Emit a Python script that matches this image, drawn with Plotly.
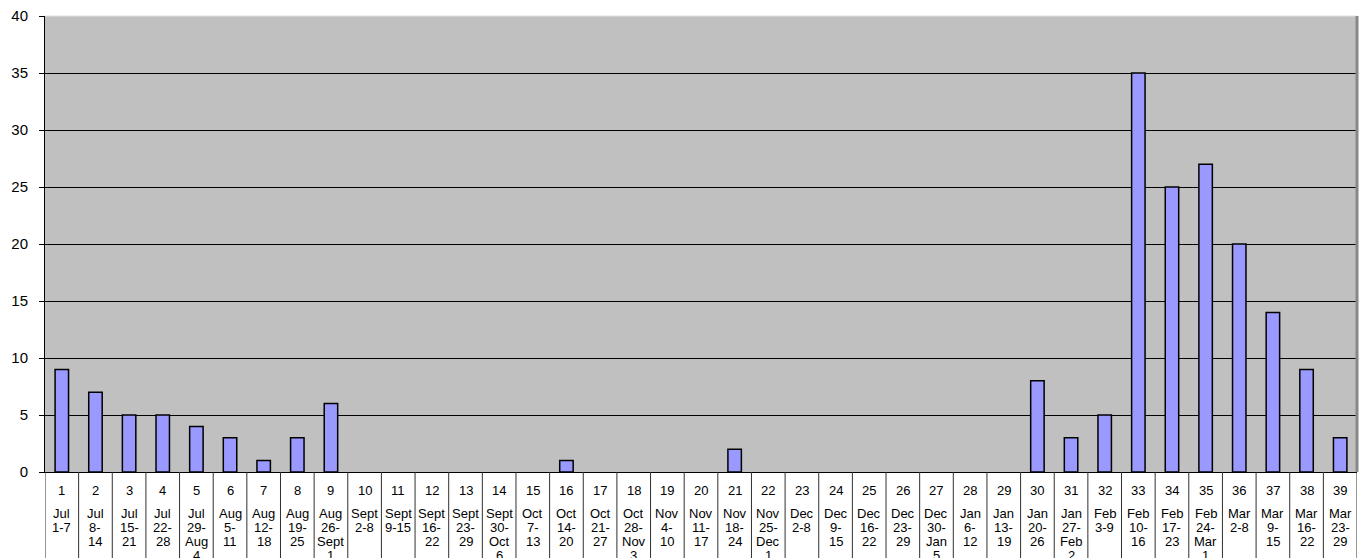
import plotly.graph_objects as go

# Weekly counts, July through March
week_numbers = list(range(1, 40))
week_ranges = [
    "Jul|1-7", "Jul|8-|14", "Jul|15-|21", "Jul|22-|28",
    "Jul|29-|Aug|4", "Aug|5-|11", "Aug|12-|18", "Aug|19-|25",
    "Aug|26-|Sept|1", "Sept|2-8", "Sept|9-15", "Sept|16-|22",
    "Sept|23-|29", "Sept|30-|Oct|6", "Oct|7-|13", "Oct|14-|20",
    "Oct|21-|27", "Oct|28-|Nov|3", "Nov|4-|10", "Nov|11-|17",
    "Nov|18-|24", "Nov|25-|Dec|1", "Dec|2-8", "Dec|9-|15",
    "Dec|16-|22", "Dec|23-|29", "Dec|30-|Jan|5", "Jan|6-|12",
    "Jan|13-|19", "Jan|20-|26", "Jan|27-|Feb|2", "Feb|3-9",
    "Feb|10-|16", "Feb|17-|23", "Feb|24-|Mar|1", "Mar|2-8",
    "Mar|9-|15", "Mar|16-|22", "Mar|23-|29",
]
counts = [9, 7, 5, 5, 4, 3, 1, 3, 6, 0, 0, 0, 0, 0, 0, 1, 0, 0, 0, 0,
          2, 0, 0, 0, 0, 0, 0, 0, 0, 8, 3, 5, 35, 25, 27, 20, 14, 9, 3]
y_ticks = [0, 5, 10, 15, 20, 25, 30, 35, 40]

FONT = "Liberation Sans, Arial, sans-serif"
LABEL_FONT = dict(family=FONT, size=13, color="black")

fig = go.Figure(
    go.Bar(
        x=week_numbers,
        y=counts,
        marker=dict(
            color="#9999FF",
            # empty weeks get no outline so nothing is drawn for them
            line=dict(color="black", width=[1.5 if c > 0 else 0 for c in counts]),
        ),
    )
)

# Category labels: week number, then the date range one line at a time
annotations = []
for n, rng in zip(week_numbers, week_ranges):
    annotations.append(dict(
        x=n, y=0, xref="x", yref="paper", text=str(n), showarrow=False,
        yanchor="middle", yshift=-18, font=LABEL_FONT,
    ))
    for k, part in enumerate(rng.split("|")):
        annotations.append(dict(
            x=n, y=0, xref="x", yref="paper", text=part, showarrow=False,
            yanchor="middle", yshift=-41 - 14 * k, font=LABEL_FONT,
        ))

# Table-style separators between categories below the axis
shapes = []
for n in [week_numbers[0] - 1] + week_numbers:
    shapes.append(dict(
        type="line", xref="x", yref="paper", x0=n + 0.5, x1=n + 0.5,
        y0=0, y1=-0.3, line=dict(color="#303030", width=1),
    ))
# Plot area frame: light top edge, dark right edge
shapes.append(dict(type="line", xref="paper", yref="paper", x0=0, x1=1, y0=1, y1=1,
                   line=dict(color="#E0E0E0", width=1)))
shapes.append(dict(type="line", xref="paper", yref="paper", x0=1, x1=1, y0=0, y1=1,
                   line=dict(color="#888888", width=3)))

fig.update_layout(
    width=1362, height=558,
    margin=dict(l=45, r=5, t=16, b=86),
    paper_bgcolor="white",
    plot_bgcolor="#C0C0C0",
    bargap=0.6,
    showlegend=False,
    annotations=annotations,
    shapes=shapes,
    font=dict(family=FONT, color="black"),
)
fig.update_xaxes(
    range=[0.5, 39.5], showticklabels=False, showgrid=False, zeroline=False,
    showline=True, linecolor="black", linewidth=1, ticks="",
)
fig.update_yaxes(
    range=[0, 40], tickvals=y_ticks, showgrid=True, gridcolor="black", gridwidth=1,
    zeroline=False, showline=True, linecolor="black", linewidth=1,
    ticks="outside", ticklen=5, tickcolor="black", ticklabelstandoff=8,
    tickfont=dict(family=FONT, size=15, color="black"),
)

fig.write_html("out.html")
